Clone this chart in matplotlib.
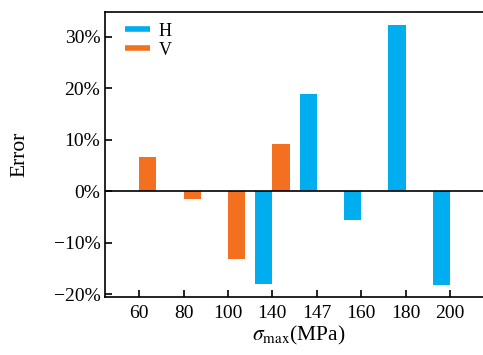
import numpy as np
import matplotlib
matplotlib.use("Agg")
import matplotlib.pyplot as plt
from matplotlib.lines import Line2D
from matplotlib.ticker import FuncFormatter

# 各载荷下的误差 (%)
categories = ["60", "80", "100", "140", "147", "160", "180", "200"]
err_h = [np.nan, np.nan, np.nan, -17.9, 18.9, -5.6, 32.3, -18.2]
err_v = [6.6, -1.5, -13.1, 9.2, np.nan, np.nan, np.nan, np.nan]

color_h = "#00AEEF"
color_v = "#F37021"

plt.rcParams["font.family"] = ["Liberation Serif", "DejaVu Serif"]
plt.rcParams["mathtext.fontset"] = "stix"

fig = plt.figure(figsize=(4.83, 3.55), dpi=100)
ax = fig.add_axes([0.2164, 0.1642, 0.804, 0.802])

x = np.arange(len(categories))
w = 0.39
h = np.array(err_h)
v = np.array(err_v)
mh = ~np.isnan(h)
mv = ~np.isnan(v)
# V 柱在刻度右侧, H 柱在刻度左侧
ax.bar(x[mv] + w / 2, v[mv], width=w, color=color_v, linewidth=0)
ax.bar(x[mh] - w / 2, h[mh], width=w, color=color_h, linewidth=0)
ax.axhline(0, color="black", linewidth=1.2)

ax.set_xlim(-0.777, 7.96)
ax.set_ylim(-20.46, 34.8)
ax.set_xticks(x)
ax.set_xticklabels(categories)
ax.set_yticks([-20, -10, 0, 10, 20, 30])
ax.yaxis.set_major_formatter(
    FuncFormatter(lambda val, pos: f"{val:.0f}%".replace("-", "\u2212")))

ax.tick_params(direction="in", length=5, width=1.2, labelsize=14)
ax.tick_params(axis="x", pad=6)
ax.tick_params(axis="y", pad=3)
for side in ["left", "top", "bottom"]:
    ax.spines[side].set_linewidth(1.2)
ax.spines["right"].set_visible(False)

ax.set_ylabel("Error", fontsize=15.5)
ax.yaxis.set_label_coords(-0.194, 0.5)
ax.set_xlabel(r"$\sigma_{\rm max}$(MPa)", fontsize=15.5)
ax.xaxis.set_label_coords(0.5, -0.095)

handles = [Line2D([], [], color=color_h, linewidth=4, solid_capstyle="butt"),
           Line2D([], [], color=color_v, linewidth=4, solid_capstyle="butt")]
ax.legend(handles, ["H", "V"], loc="upper left", bbox_to_anchor=(0.053, 0.962),
          frameon=False, fontsize=13, borderpad=0, borderaxespad=0,
          handlelength=1.4, handletextpad=0.45, labelspacing=0.1)

fig.savefig("out.png", dpi=100)
